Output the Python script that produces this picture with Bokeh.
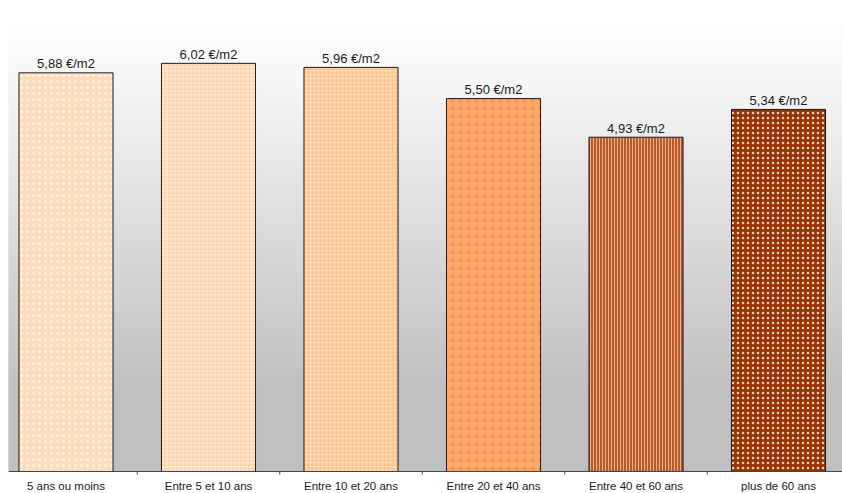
from bokeh.plotting import figure
from bokeh.models import ColumnDataSource, Span
from bokeh.core.properties import value
from bokeh.embed import file_html
from bokeh.resources import INLINE

# ---- data ----
categories = ["5 ans ou moins", "Entre 5 et 10 ans", "Entre 10 et 20 ans",
              "Entre 20 et 40 ans", "Entre 40 et 60 ans", "plus de 60 ans"]
prix_m2 = [5.88, 6.02, 5.96, 5.50, 4.93, 5.34]
labels = ["5,88 €/m2", "6,02 €/m2", "5,96 €/m2", "5,50 €/m2", "4,93 €/m2", "5,34 €/m2"]

# ---- styles ----
fill_colors = ["#FDDDBC", "#FDD3A8", "#FDC895", "#FFA86C", "#B85A2C", "#993300"]
hatch_patterns = ["dot", "cross", "dot", "dot", "vertical_line", "dot"]
hatch_colors = ["#FFFFFF", "#FFFFFF", "#FFFFFF", "#FF7030", "#F2C8A0", "#FFFFFF"]
hatch_scales = [6, 4, 4, 8, 3, 5]
hatch_weights = [2, 1, 1, 3, 1, 1]
hatch_alphas = [0.6, 0.5, 0.6, 0.45, 0.8, 0.8]

W, H = 842, 493
PX_PER_UNIT = 67.8
Y_TOP = 6.578
Y_BOT = -22.0 / PX_PER_UNIT          # room below the axis for category labels
X0, X1 = -0.4035, 5.449

p = figure(width=W, height=H, output_backend="svg", toolbar_location=None,
           x_range=(X0, X1), y_range=(Y_BOT, Y_TOP),
           x_axis_type=None, y_axis_type=None,
           min_border_left=8, min_border_right=0, min_border_top=25,
           min_border_bottom=0)
p.outline_line_color = None
p.grid.visible = False
p.background_fill_color = "#FFFFFF"
p.border_fill_color = "#FFFFFF"

# ---- background gradient (white at top -> #C0C0C0 lower down) ----
n_strips = 110
frame_top_px, axis_px = 25.0, 471.0
bb, bt, bc = [], [], []
for k in range(n_strips):
    y0 = Y_TOP * k / n_strips
    y1 = Y_TOP * (k + 1) / n_strips
    ym = (y0 + y1) / 2
    px = axis_px - (axis_px - frame_top_px) * ym / Y_TOP
    t = min(max((px - 40.0) / 350.0, 0.0), 1.0)
    g = int(round(253 - 61 * t))
    bb.append(y0)
    bt.append(min(y1 + 0.04, Y_TOP + 0.1))
    bc.append("#%02x%02x%02x" % (g, g, g))
p.quad(left=X0 - 1, right=X1 + 1, bottom=bb, top=bt, fill_color=bc,
       line_color=None)

# ---- bars ----
xs = list(range(len(categories)))
src = ColumnDataSource(dict(
    x=xs, top=prix_m2, label=labels, cat=categories, zero=[0] * len(xs),
    fill=fill_colors, hp=hatch_patterns, hc=hatch_colors, hs=hatch_scales,
    hw=hatch_weights, ha=hatch_alphas))
p.vbar(x="x", top="top", width=0.66, bottom=0, source=src,
       fill_color="fill", line_color="#1a1a1a", line_width=1,
       hatch_pattern="hp", hatch_color="hc", hatch_scale="hs",
       hatch_weight="hw", hatch_alpha="ha")

p.text(x="x", y="top", text="label", source=src, text_align="center",
       text_baseline="alphabetic", y_offset=-9,
       text_font=value("Liberation Sans"), text_font_size="13px",
       text_color="#1a1a1a")

# ---- category axis: line, tick marks between categories, labels ----
p.add_layout(Span(location=0, dimension="width", line_color="#444444",
                  line_width=1))
bounds = [i + 0.5 for i in xs[:-1]]
p.segment(x0=bounds, x1=bounds, y0=[0] * len(bounds),
          y1=[-3.0 / PX_PER_UNIT] * len(bounds), line_color="#444444",
          line_width=1)
p.text(x="x", y="zero", text="cat", source=src, text_align="center",
       text_baseline="middle", y_offset=15,
       text_font=value("Liberation Sans"), text_font_size="11.5px",
       text_color="#1a1a1a")

open("out.html", "w").write(file_html(p, INLINE))
